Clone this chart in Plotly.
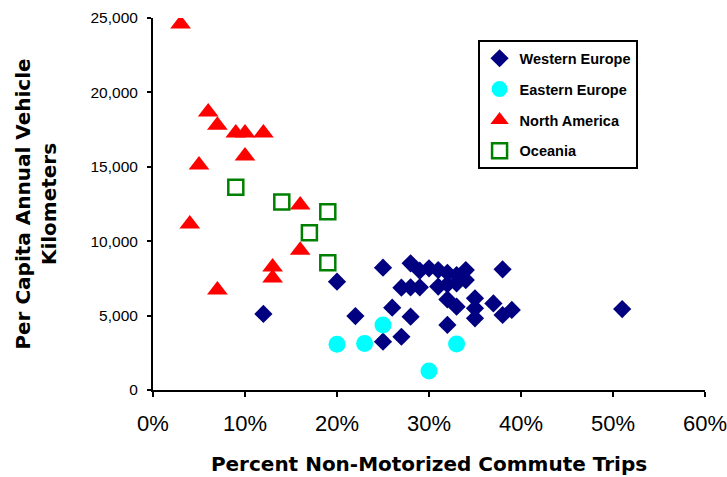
import plotly.graph_objects as go

# ── Data (x = share of non-motorized commute trips, y = km per capita) ─────────
we_x = [0.12, 0.20, 0.22, 0.25, 0.25, 0.27, 0.26, 0.28, 0.27, 0.28, 0.29, 0.31,
        0.33, 0.28, 0.29, 0.30, 0.31, 0.32, 0.33, 0.34, 0.34, 0.32, 0.33, 0.35,
        0.35, 0.37, 0.38, 0.39, 0.35, 0.32, 0.38, 0.51, 0.32]
we_y = [5110, 7280, 4970, 8220, 3250, 3580, 5530, 4930, 6880, 6900, 6900, 6950,
        7170, 8510, 8020, 8180, 8060, 7880, 7730, 8060, 7390, 6090, 5600, 6160,
        5490, 5820, 5040, 5380, 4820, 4370, 8110, 5440, 7100]

ee_x = [0.20, 0.23, 0.25, 0.33, 0.30]
ee_y = [3070, 3130, 4370, 3090, 1280]

na_x = [0.03, 0.06, 0.07, 0.09, 0.10, 0.12, 0.05, 0.10, 0.04, 0.16, 0.16,
        0.13, 0.13, 0.07]
na_y = [24600, 18680, 17800, 17270, 17270, 17270, 15120, 15730, 11160, 12430,
        9400, 8270, 7530, 6720]

oc_x = [0.09, 0.14, 0.19, 0.17, 0.19]
oc_y = [13620, 12630, 11980, 10570, 8560]

x_ticks = [0, 0.1, 0.2, 0.3, 0.4, 0.5, 0.6]
y_ticks = [0, 5000, 10000, 15000, 20000, 25000]

ARIAL = "Liberation Sans"
BOLD_T = "DejaVu Sans"

fig = go.Figure()

series = [
    ("Western Europe", we_x, we_y, dict(symbol="diamond", size=14, color="#000080")),
    ("Eastern Europe", ee_x, ee_y, dict(symbol="circle", size=17, color="#00FFFF")),
    ("North America", na_x, na_y, dict(symbol="triangle-up", size=18, color="#FF0000")),
    ("Oceania", oc_x, oc_y, dict(symbol="square-open", size=15, color="#008000",
                                 line=dict(width=2.5, color="#008000"))),
]
for name, xs, ys, mk in series:
    fig.add_trace(go.Scatter(
        x=xs, y=ys, mode="markers", name=name, legendgroup=name,
        marker=mk,
    ))

fig.update_layout(
    width=727, height=477,
    paper_bgcolor="white", plot_bgcolor="white",
    margin=dict(l=153, r=22, t=18, b=87, autoexpand=False),
    showlegend=True,
    legend=dict(
        x=0.588, y=0.94, xanchor="left", yanchor="top",
        bgcolor="white", bordercolor="black", borderwidth=2,
        font=dict(family=ARIAL, size=14.5, color="black", weight="bold"),
        tracegroupgap=9, itemwidth=30,
    ),
    xaxis=dict(
        range=[0, 0.60001], tickvals=x_ticks, tickformat=".0%",
        showgrid=False, zeroline=False, automargin=False,
        ticklabeloverflow="allow",
        showline=True, linecolor="black", linewidth=2,
        ticks="outside", ticklen=5, tickwidth=2, tickcolor="black",
        tickfont=dict(family=ARIAL, size=22, color="black"),
        ticklabelstandoff=8,
        title=dict(text="Percent Non-Motorized Commute Trips",
                   font=dict(family=BOLD_T, size=20, color="black", weight="bold"),
                   standoff=22),
    ),
    yaxis=dict(
        range=[0, 25000], tickvals=y_ticks, tickformat=",",
        showgrid=False, zeroline=False, automargin=False,
        showline=True, linecolor="black", linewidth=2,
        ticks="outside", ticklen=4, tickwidth=2, tickcolor="black",
        tickfont=dict(family=ARIAL, size=15.5, color="black"),
        ticklabelstandoff=6,
        title=dict(text="Per Capita Annual Vehicle<br>Kilometers",
                   font=dict(family=BOLD_T, size=20, color="black", weight="bold"),
                   standoff=28),
    ),
)

# page body has an 8px default margin; drop it so the chart sits at (0, 0)
fig.write_html("out.html", config={"displayModeBar": False},
               post_script="document.body.style.margin='0';")
